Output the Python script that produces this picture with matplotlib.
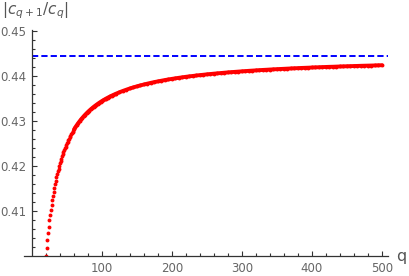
import numpy as np
from matplotlib import pyplot as plt
from matplotlib.ticker import FixedLocator

plt.rcParams['mathtext.fontset'] = 'dejavusans'

# ratio |c_{q+1}/c_q|
q_vals = list(range(20, 61)) + list(range(62, 121, 2)) + list(range(125, 501, 5))
ratio = [
    0.39992, 0.40176, 0.40345, 0.40501, 0.40646, 0.40780, 0.40905, 0.41022,
    0.41132, 0.41234, 0.41331, 0.41422, 0.41508, 0.41589, 0.41665, 0.41738,
    0.41807, 0.41872, 0.41935, 0.41994, 0.42051, 0.42105, 0.42156, 0.42206,
    0.42253, 0.42299, 0.42342, 0.42384, 0.42424, 0.42463, 0.42500, 0.42536,
    0.42570, 0.42604, 0.42636, 0.42667, 0.42697, 0.42726, 0.42754, 0.42781,
    0.42807,
    0.42858, 0.42905, 0.42949, 0.42991, 0.43031, 0.43068, 0.43104, 0.43138,
    0.43170, 0.43201, 0.43230, 0.43258, 0.43284, 0.43310, 0.43334, 0.43357,
    0.43380, 0.43401, 0.43422, 0.43442, 0.43461, 0.43479, 0.43497, 0.43514,
    0.43530, 0.43546, 0.43561, 0.43576, 0.43590, 0.43604,
    0.43637, 0.43667, 0.43695, 0.43722, 0.43746, 0.43769, 0.43790, 0.43810,
    0.43829, 0.43847, 0.43864, 0.43879, 0.43894, 0.43909, 0.43922, 0.43935,
    0.43947, 0.43959, 0.43970, 0.43981, 0.43991, 0.44000, 0.44010, 0.44019,
    0.44027, 0.44036, 0.44043, 0.44051, 0.44058, 0.44065, 0.44072, 0.44079,
    0.44085, 0.44091, 0.44097, 0.44103, 0.44108, 0.44114, 0.44119, 0.44124,
    0.44129, 0.44134, 0.44138, 0.44143, 0.44147, 0.44151, 0.44155, 0.44159,
    0.44163, 0.44167, 0.44171, 0.44174, 0.44178, 0.44181, 0.44184, 0.44188,
    0.44191, 0.44194, 0.44197, 0.44200, 0.44203, 0.44205, 0.44208, 0.44211,
    0.44213, 0.44216, 0.44218, 0.44221, 0.44223, 0.44226, 0.44228, 0.44230,
    0.44232, 0.44234, 0.44237, 0.44239,
]
limit = 4 / 9  # dashed asymptote

xticks = [100, 200, 300, 400, 500]
yticks = [0.41, 0.42, 0.43, 0.44, 0.45]

fig = plt.figure(figsize=(4.09, 2.76), dpi=100)
ax = fig.add_axes([24 / 409, 20.5 / 276, 364 / 409, 225.8 / 276])
ax.set_xlim(-11.4, 508.6)
ax.set_ylim(0.40, 0.4503)

ax.hlines(limit, 0, 508.6, colors='#0000ff', linestyles=(0, (3.2, 1.6)), lw=1.4)
# sparse start shows single dots, dense tail merges into a thick band
ax.plot(q_vals, ratio, 'o', color='#ff0000', markersize=2.8, markeredgewidth=0)
ax.plot(q_vals[40:], ratio[40:], '-', color='#ff0000', lw=2.8, solid_capstyle='round')

for s in ['top', 'right']:
    ax.spines[s].set_visible(False)
ax.spines['left'].set_position(('data', 0))
for s in ['left', 'bottom']:
    ax.spines[s].set_color('#333333')
    ax.spines[s].set_linewidth(0.9)

ax.xaxis.set_major_locator(FixedLocator(xticks))
ax.yaxis.set_major_locator(FixedLocator(yticks))
ax.xaxis.set_minor_locator(FixedLocator([v for v in range(20, 501, 20) if v % 100]))
ax.yaxis.set_minor_locator(FixedLocator([0.40 + 0.002 * i for i in range(1, 26) if i % 5]))
ax.set_xticklabels([str(v) for v in xticks])
ax.set_yticklabels(['%.2f' % v for v in yticks])
ax.tick_params(which='both', direction='in', color='#333333', width=0.8,
               labelcolor='#666666', labelsize=8.5)
ax.tick_params(which='major', length=3.5)
ax.tick_params(which='minor', length=2)
ax.tick_params(axis='x', pad=5)
ax.tick_params(axis='y', pad=4)

fig.text(2 / 409, 1 - 11 / 276, r'$|c_{q+1}/c_q|$', ha='left', va='center',
         fontsize=11, color='#555555')
fig.text(401 / 409, 1 - 257 / 276, 'q', ha='center', va='center',
         fontsize=11.5, color='#555555')

fig.savefig('out.png', dpi=100)
